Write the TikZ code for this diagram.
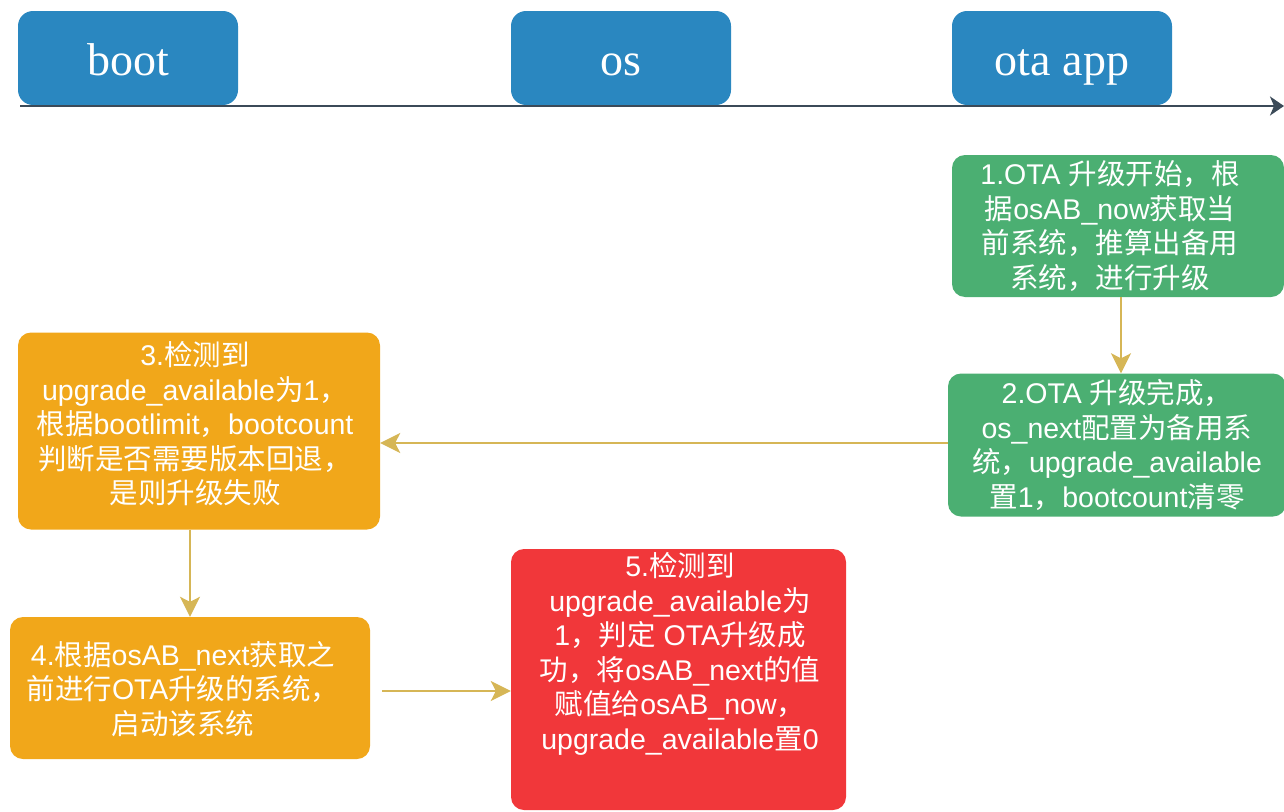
\documentclass[tikz,border=0pt]{standalone}
\usepackage{fontspec}
\setmainfont{Liberation Sans}
\newfontfamily\cjk{Noto Sans CJK SC}
\newfontfamily\hdrfont{Liberation Serif}
\usetikzlibrary{arrows.meta,calc}
\definecolor{hdrblue}{HTML}{2A87C0}
\definecolor{boxgreen}{HTML}{4BAF72}
\definecolor{boxorange}{HTML}{F1A71A}
\definecolor{boxred}{HTML}{F1373A}
\definecolor{arrowc}{HTML}{D6B656}
\definecolor{linec}{HTML}{3B4A58}
\newcommand\zh[1]{{\cjk #1}}
\begin{document}
\begin{tikzpicture}[x=1pt,y=-1pt,
  hdr/.style={fill=hdrblue, rounded corners=15pt, inner sep=0pt, minimum width=220pt, minimum height=94pt,
    text=white, text height=40pt, text depth=6pt, font=\hdrfont\fontsize{46}{54}\selectfont},
  stepbox/.style={rounded corners=13pt, inner sep=0pt, text=white, align=center,
    font=\fontsize{28.5}{34.5}\selectfont},
  txt/.style={inner sep=0pt, text=white, align=center, font=\fontsize{28.5}{34.5}\selectfont},
  conn/.style={draw=arrowc, line width=2pt, -{Stealth[length=20pt,width=20pt,inset=5pt]}},
  tline/.style={draw=linec, line width=2.8pt, -{Stealth[length=14pt,width=19pt,inset=4pt]}}]
\useasboundingbox (0,0) rectangle (1284,811);
\clip (0,0) rectangle (1284,811);
% headers
\node[hdr] (boot) at (128,58) {boot};
\node[hdr] (os) at (621,58) {os};
\node[hdr] (ota) at (1062,58) {ota app};
% timeline
\coordinate (t0) at (20,106);
\coordinate (t1) at (1284,106);
\draw[tline] (t0) -- (t1);
% step boxes
\node[stepbox, fill=boxgreen, minimum width=332pt, minimum height=142pt] (b1) at (1118,226) {};
\node[txt] (b1t) at (1110,226)
  {1.OTA \zh{升级开始，根}\\\zh{据}osAB\_now\zh{获取当}\\\zh{前系统，推算出备用}\\\zh{系统，进行升级}};
\node[stepbox, fill=boxgreen, minimum width=338pt, minimum height=143pt] (b2) at (1117,445)
  {2.OTA \zh{升级完成，}\\os\_next\zh{配置为备用系}\\\zh{统，}upgrade\_available\\\zh{置}1\zh{，}bootcount\zh{清零}};
\node[stepbox, fill=boxorange, minimum width=362pt, minimum height=197pt] (b3) at (199,431) {};
\node[txt] (b3t) at (195,424)
  {3.\zh{检测到}\\upgrade\_available\zh{为}1\zh{，}\\\zh{根据}bootlimit\zh{，}bootcount\\\zh{判断是否需要版本回退，}\\\zh{是则升级失败}};
\node[stepbox, fill=boxorange, minimum width=360pt, minimum height=142pt] (b4) at (190,688) {};
\node[txt] (b4t) at (183,689)
  {4.\zh{根据}osAB\_next\zh{获取之}\\\zh{前进行}OTA\zh{升级的系统，}\\\zh{启动该系统}};
\node[stepbox, fill=boxred, minimum width=335pt, minimum height=261pt] (b5) at (678.5,679.5) {};
\node[txt] (b5t) at (680,654)
  {5.\zh{检测到}\\upgrade\_available\zh{为}\\1\zh{，判定} OTA\zh{升级成}\\\zh{功，将}osAB\_next\zh{的值}\\\zh{赋值给}osAB\_now\zh{，}\\upgrade\_available\zh{置}0};
% connectors
\draw[conn] ($(b1.south)+(3,0)$) -- ($(b1.south |- b2.north)+(3,0)$);
\draw[conn] (b2.west |- 0,443) -- (b3.east |- 0,443);
\draw[conn] (b4.north |- b3.south) -- (b4.north);
\draw[conn, shorten <=12pt] (b4.east |- 0,691) -- (b5.west |- 0,691);
\end{tikzpicture}
\end{document}
